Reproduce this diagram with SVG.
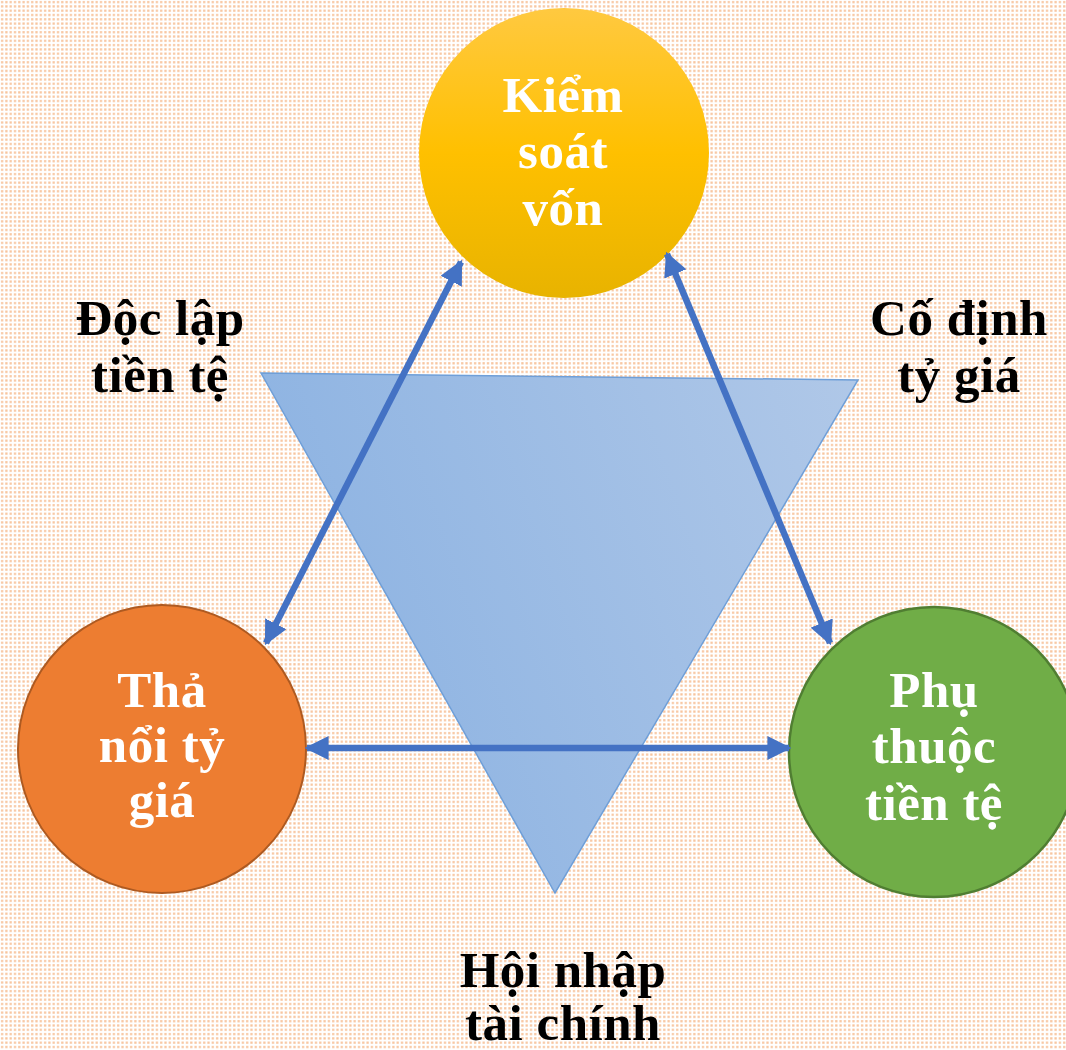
<svg xmlns="http://www.w3.org/2000/svg" width="1066" height="1050" viewBox="0 0 1066 1050">
<defs>
<pattern id="dots" width="4.3" height="4.3" patternUnits="userSpaceOnUse">
<rect width="4.3" height="4.3" fill="#ffffff"/>
<rect x="1" y="1" width="2.2" height="2.2" fill="#f7c39b"/>
</pattern>
<linearGradient id="gY" x1="0" y1="0" x2="0" y2="1">
<stop offset="0" stop-color="#ffc940"/>
<stop offset="0.5" stop-color="#ffc000"/>
<stop offset="1" stop-color="#e8b300"/>
</linearGradient>
<linearGradient id="gT" x1="0" y1="0.3" x2="1" y2="0">
<stop offset="0" stop-color="#8db3e2"/>
<stop offset="1" stop-color="#b0c8e8"/>
</linearGradient>
<marker id="ah" viewBox="0 0 10 10" refX="9" refY="5" markerWidth="24" markerHeight="24" markerUnits="userSpaceOnUse" orient="auto-start-reverse">
<path d="M0,0 L10,5 L0,10 Z" fill="#4472c4"/>
</marker>
<style>
.node-text{font-family:"Liberation Serif","DejaVu Serif",serif;font-weight:bold;font-size:51px;letter-spacing:0.5px;fill:#ffffff;text-anchor:middle}
.label{font-family:"Liberation Serif","DejaVu Serif",serif;font-weight:bold;font-size:51px;letter-spacing:0.5px;fill:#000000;text-anchor:middle}
.conn{stroke:#4472c4;stroke-width:6.5;fill:none;marker-start:url(#ah);marker-end:url(#ah)}
</style>
</defs>
<rect width="1066" height="1050" fill="url(#dots)"/>
<g id="triangle">
<polygon points="261,373 858,380 555,893" fill="url(#gT)" stroke="#6f9fd8" stroke-width="1.5"/>
</g>
<g id="node-kiem-soat-von">
<circle cx="564" cy="153" r="145" fill="url(#gY)"/>
<text class="node-text" x="563" y="112">Kiểm</text>
<text class="node-text" x="563" y="168">soát</text>
<text class="node-text" x="563" y="225">vốn</text>
</g>
<g id="node-tha-noi-ty-gia">
<circle cx="162" cy="749" r="144" fill="#ed7d31" stroke="#ae5a21" stroke-width="2"/>
<text class="node-text" x="162" y="707">Thả</text>
<text class="node-text" x="162" y="762">nổi tỷ</text>
<text class="node-text" x="162" y="817">giá</text>
</g>
<g id="node-phu-thuoc-tien-te">
<circle cx="934" cy="752" r="145" fill="#70ad47" stroke="#507e32" stroke-width="2.5"/>
<text class="node-text" x="934" y="707">Phụ</text>
<text class="node-text" x="934" y="763">thuộc</text>
<text class="node-text" x="934" y="820">tiền tệ</text>
</g>
<g id="connectors">
<line class="conn" x1="461" y1="262" x2="266" y2="643"/>
<line class="conn" x1="667" y1="254" x2="830" y2="643"/>
<line class="conn" x1="307" y1="748" x2="789" y2="748"/>
</g>
<g id="labels">
<text class="label" x="160" y="335">Độc lập</text>
<text class="label" x="160" y="392">tiền tệ</text>
<text class="label" x="959" y="335">Cố định</text>
<text class="label" x="959" y="392">tỷ giá</text>
<text class="label" x="563" y="987">Hội nhập</text>
<text class="label" x="563" y="1040">tài chính</text>
</g>
</svg>
